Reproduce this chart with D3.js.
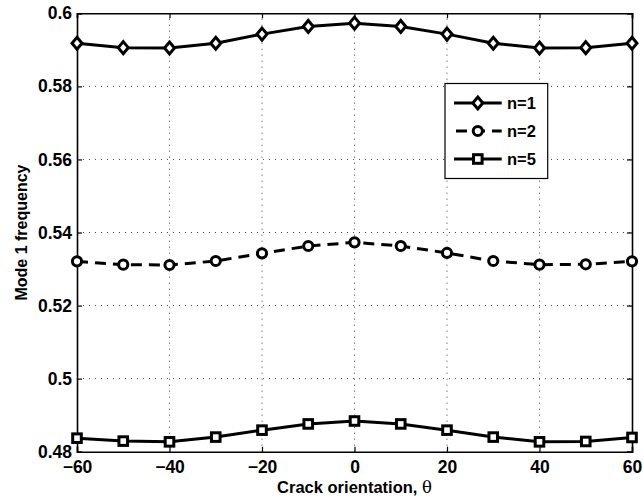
<!DOCTYPE html>
<html>
<head>
<meta charset="utf-8">
<script src="https://cdn.jsdelivr.net/npm/d3@7"></script>
<style>
  body { margin: 0; background: #fff; }
  text { font-family: "Liberation Sans", Arial, sans-serif; font-weight: bold; }
</style>
</head>
<body>
<div id="container"></div>
<script>
/** CONSTANTS AND GLOBALS */
const width = 643,
  height = 502,
  margin = { top: 13.3, bottom: 50.3, left: 77, right: 11 };

// crack orientation (degrees)
const theta = [-60, -50, -40, -30, -20, -10, 0, 10, 20, 30, 40, 50, 60];

// mode 1 frequency, one list per n
const n1 = [0.5918, 0.5906, 0.5905, 0.5918, 0.5943, 0.5964, 0.5973, 0.5964, 0.5943, 0.5918, 0.5905, 0.5906, 0.5918];
const n2 = [0.5321, 0.5312, 0.5311, 0.5322, 0.5343, 0.5363, 0.5373, 0.5363, 0.5344, 0.5322, 0.5312, 0.5313, 0.5321];
const n5 = [0.4837, 0.4829, 0.4827, 0.4840, 0.4859, 0.4876, 0.4884, 0.4876, 0.4859, 0.4840, 0.4827, 0.4828, 0.4839];

const seriesNames = ["n=1", "n=2", "n=5"];
const seriesMarkers = ["diamond", "circle", "square"];
const seriesDashed = [false, true, false];

const xTicks = [-60, -40, -20, 0, 20, 40, 60];
const yTicks = [0.48, 0.5, 0.52, 0.54, 0.56, 0.58, 0.6];

const series = [n1, n2, n5].map((vals, i) => ({
  name: seriesNames[i],
  marker: seriesMarkers[i],
  dashed: seriesDashed[i],
  points: vals.map((v, j) => ({ x: theta[j], y: v }))
}));

const svg = d3.select("#container")
  .append("svg")
  .attr("width", width)
  .attr("height", height);

const x = d3.scaleLinear().domain([-60, 60]).range([margin.left, width - margin.right]);
const y = d3.scaleLinear().domain([0.48, 0.6]).range([height - margin.bottom, margin.top]);

const fmtMinus = s => s.replace("-", "\u2212");

// grid
svg.append("g")
  .selectAll("line")
  .data(xTicks.slice(1, -1))
  .join("line")
  .attr("x1", d => x(d)).attr("x2", d => x(d))
  .attr("y1", y(0.48)).attr("y2", y(0.6))
  .attr("stroke", "#444")
  .attr("stroke-width", 1)
  .attr("stroke-dasharray", "1,5");

svg.append("g")
  .selectAll("line")
  .data(yTicks.slice(1, -1))
  .join("line")
  .attr("y1", d => y(d)).attr("y2", d => y(d))
  .attr("x1", x(-60)).attr("x2", x(60))
  .attr("stroke", "#444")
  .attr("stroke-width", 1)
  .attr("stroke-dasharray", "1,5");

// axes (ticks inside)
const xAxis = svg.append("g")
  .attr("transform", `translate(0,${y(0.48)})`)
  .call(d3.axisBottom(x).tickValues(xTicks).tickSize(-5).tickPadding(9).tickFormat(d => fmtMinus(String(d))));
const xAxisTop = svg.append("g")
  .attr("transform", `translate(0,${y(0.6)})`)
  .call(d3.axisTop(x).tickValues(xTicks).tickSize(-5).tickFormat(""));
const yAxis = svg.append("g")
  .attr("transform", `translate(${x(-60)},0)`)
  .call(d3.axisLeft(y).tickValues(yTicks).tickSize(-5).tickPadding(5).tickFormat(d => String(+d.toFixed(2))));
const yAxisRight = svg.append("g")
  .attr("transform", `translate(${x(60)},0)`)
  .call(d3.axisRight(y).tickValues(yTicks).tickSize(-5).tickFormat(""));

[xAxis, xAxisTop, yAxis, yAxisRight].forEach(g => {
  g.select(".domain").attr("stroke", "#000").attr("stroke-width", 1.6);
  g.selectAll(".tick line").attr("stroke", "#000").attr("stroke-width", 1.2);
  g.selectAll(".tick text").attr("fill", "#000").style("font-size", "17.5px").style("font-weight", "bold")
    .style("font-family", "'Liberation Sans', Arial, sans-serif");
});

// lines
const line = d3.line().x(d => x(d.x)).y(d => y(d.y));

series.forEach(s => {
  svg.append("path")
    .datum(s.points)
    .attr("fill", "none")
    .attr("stroke", "#000")
    .attr("stroke-width", 3)
    .attr("stroke-linejoin", "round")
    .attr("stroke-dasharray", s.dashed ? "11,7" : null)
    .attr("d", line);
});

function drawMarker(g, type, cx, cy) {
  if (type === "diamond") {
    g.append("path")
      .attr("d", `M${cx},${cy - 6}L${cx + 5},${cy}L${cx},${cy + 6}L${cx - 5},${cy}Z`)
      .attr("fill", "#fff").attr("stroke", "#000").attr("stroke-width", 3);
  } else if (type === "circle") {
    g.append("circle")
      .attr("cx", cx).attr("cy", cy).attr("r", 4.6)
      .attr("fill", "#fff").attr("stroke", "#000").attr("stroke-width", 3);
  } else {
    g.append("rect")
      .attr("x", cx - 4.3).attr("y", cy - 4.3).attr("width", 8.6).attr("height", 8.6)
      .attr("fill", "#fff").attr("stroke", "#000").attr("stroke-width", 3);
  }
}

series.forEach(s => {
  const g = svg.append("g");
  s.points.forEach(p => drawMarker(g, s.marker, x(p.x), y(p.y)));
});

// axis labels
svg.append("text")
  .attr("x", (x(-60) + x(60)) / 2)
  .attr("y", 493)
  .attr("text-anchor", "middle")
  .style("font-size", "16.5px")
  .text("Crack orientation, ")
  .append("tspan")
  .style("font-family", "'DejaVu Serif', 'Liberation Serif', serif")
  .style("font-weight", "normal")
  .text("\u03b8");

svg.append("text")
  .attr("transform", `translate(27,${(y(0.48) + y(0.6)) / 2}) rotate(-90)`)
  .attr("text-anchor", "middle")
  .style("font-size", "16px")
  .text("Mode 1 frequency");

// legend
const legend = svg.append("g").attr("transform", "translate(445,83.5)");
legend.append("rect")
  .attr("width", 102.7).attr("height", 95)
  .attr("fill", "#fff").attr("stroke", "#000").attr("stroke-width", 1.2);

series.forEach((s, i) => {
  const ly = 19.5 + i * 28;
  legend.append("line")
    .attr("x1", 9).attr("x2", 56.7)
    .attr("y1", ly).attr("y2", ly)
    .attr("stroke", "#000").attr("stroke-width", 3)
    .attr("stroke-dasharray", s.dashed ? "11,7" : null)
    .attr("stroke-dashoffset", s.dashed ? -2 : null);
  drawMarker(legend, s.marker, 32.8, ly);
  legend.append("text")
    .attr("x", 62).attr("y", ly + 6)
    .style("font-size", "16.5px")
    .text(s.name);
});
</script>
</body>
</html>
